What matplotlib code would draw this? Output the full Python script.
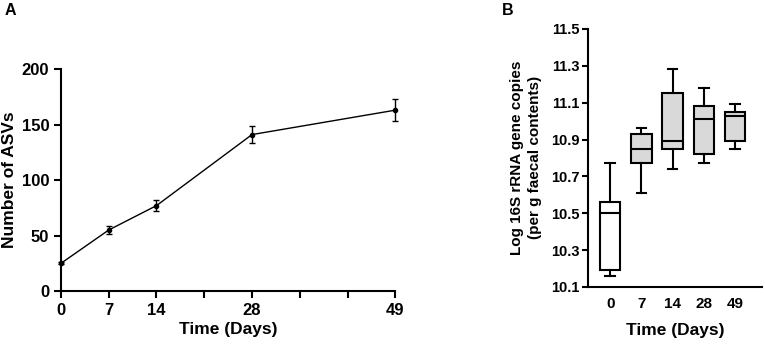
import numpy as np
import matplotlib.pyplot as plt

plt.rcParams['font.family'] = ['Liberation Sans', 'DejaVu Sans']
plt.rcParams['font.weight'] = 'bold'

# Panel A data: number of ASVs over time
days = [0, 7, 14, 28, 49]
asvs = [25, 55, 77, 141, 163]
asv_err = [1, 4, 5, 8, 10]

# Panel B data: log 16S rRNA gene copies (box summaries)
box_labels = ['0', '7', '14', '28', '49']
whislo = [10.16, 10.61, 10.74, 10.77, 10.85]
q1 = [10.19, 10.77, 10.85, 10.82, 10.89]
med = [10.50, 10.85, 10.89, 11.01, 11.03]
q3 = [10.56, 10.93, 11.15, 11.08, 11.05]
whishi = [10.77, 10.96, 11.28, 11.18, 11.09]
box_fill = ['white', '#d9d9d9', '#d9d9d9', '#d9d9d9', '#d9d9d9']

fig = plt.figure(figsize=(7.65, 3.49), dpi=100)

# ---- Panel A ----
axA = fig.add_axes([0.0797, 0.166, 0.437, 0.636])
axA.errorbar(days, asvs, yerr=asv_err, color='black', lw=1.0, marker='o', ms=3,
             capsize=2.5, elinewidth=1.0, capthick=1.0, clip_on=False, zorder=3)
axA.set_xlim(0, 49)
axA.set_ylim(0, 200)
axA.set_xticks(np.arange(0, 50, 7))
axA.set_xticklabels(['0', '7', '14', '', '28', '', '', '49'])
axA.set_yticks([0, 50, 100, 150, 200])
axA.set_xlabel('Time (Days)', fontsize=12.5, fontweight='bold', labelpad=3)
axA.set_ylabel('Number of ASVs', fontsize=12.5, fontweight='bold', labelpad=3)
axA.tick_params(labelsize=12, width=1.5, length=5)
for s in ['top', 'right']:
    axA.spines[s].set_visible(False)
for s in ['left', 'bottom']:
    axA.spines[s].set_linewidth(1.5)
fig.text(0.006, 0.957, 'A', fontsize=11.5, fontweight='bold', va='baseline')

# ---- Panel B ----
axB = fig.add_axes([0.769, 0.178, 0.227, 0.739])
stats = []
for i in range(len(box_labels)):
    stats.append({'whislo': whislo[i], 'q1': q1[i], 'med': med[i], 'q3': q3[i],
                  'whishi': whishi[i], 'label': box_labels[i]})
bp = axB.bxp(stats, positions=np.arange(1, 6), widths=0.66, showfliers=False,
             patch_artist=True,
             boxprops=dict(edgecolor='black', linewidth=1.5),
             medianprops=dict(color='black', linewidth=1.5),
             whiskerprops=dict(color='black', linewidth=1.5),
             capprops=dict(color='black', linewidth=1.5))
for patch, c in zip(bp['boxes'], box_fill):
    patch.set_facecolor(c)
for cap in bp['caps']:
    xd = cap.get_xdata()
    mid = (xd[0] + xd[1]) / 2
    cap.set_xdata([mid - 0.15, mid + 0.15])
axB.set_xlim(0.3, 5.86)
axB.set_ylim(10.1, 11.5)
axB.set_yticks([10.1, 10.3, 10.5, 10.7, 10.9, 11.1, 11.3, 11.5])
axB.set_xlabel('Time (Days)', fontsize=12.5, fontweight='bold', labelpad=9)
axB.set_ylabel('Log 16S rRNA gene copies\n(per g faecal contents)', fontsize=11,
               fontweight='bold', labelpad=7, linespacing=1.3)
axB.tick_params(axis='y', labelsize=10.5, width=1.5, length=4, pad=2)
axB.tick_params(axis='x', labelsize=11, length=0, pad=7)
for s in ['top', 'right']:
    axB.spines[s].set_visible(False)
for s in ['left', 'bottom']:
    axB.spines[s].set_linewidth(1.5)
fig.text(0.656, 0.957, 'B', fontsize=11.5, fontweight='bold', va='baseline')

plt.savefig('out.png', dpi=100)
